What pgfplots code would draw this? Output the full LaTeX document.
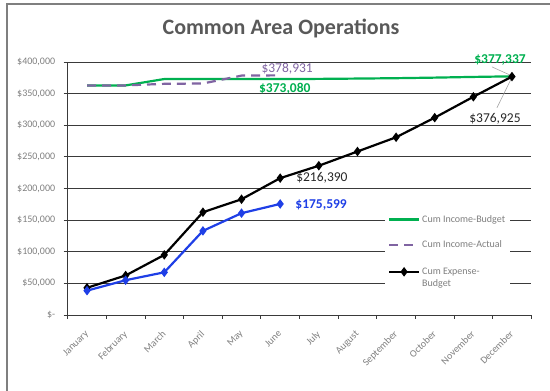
\documentclass[border=0pt]{standalone}
\usepackage{pgfplots}
\pgfplotsset{compat=1.18}
\usepackage{fontspec}
\setmainfont{Carlito}
\definecolor{cgreen}{HTML}{00B050}
\definecolor{cpurple}{HTML}{8064A2}
\definecolor{cblue}{HTML}{1F3FE6}
\definecolor{cgray}{HTML}{7F7F7F}
\definecolor{ctitle}{HTML}{595959}
\definecolor{cgrid}{HTML}{3A3A3A}
\begin{document}
\begin{tikzpicture}[x=1pt,y=1pt]
\useasboundingbox (0,0) rectangle (550,391);
\draw[cgray, line width=1.5pt] (7,0) -- (7,387) -- (550,387);
\node[font=\bfseries\fontsize{22}{24}\selectfont, text=ctitle] at (281,363) {Common Area Operations};
\begin{axis}[
  at={(67.7pt,76pt)}, anchor=south west,
  scale only axis, width=463.6pt, height=253pt,
  xmin=-0.5, xmax=11.5, ymin=0, ymax=400000,
  axis x line*=bottom, axis y line*=left,
  axis line style={cgrid, line width=0.9pt},
  clip=false,
  scaled y ticks=false,
  xtick={0,...,11},
  xticklabels={January,February,March,April,May,June,July,August,September,October,November,December},
  minor xtick={-0.5,0.5,...,11.5},
  major x tick style={draw=none},
  minor tick length=4pt,
  major tick length=4pt,
  tick align=outside,
  tick style={cgrid, line width=0.8pt},
  ytick={0,50000,...,400000},
  yticklabels={\$-,\$50{,}000,\$100{,}000,\$150{,}000,\$200{,}000,\$250{,}000,\$300{,}000,\$350{,}000,\$400{,}000},
  yticklabel style={font=\fontsize{10}{12}\selectfont, text=cgray, xshift=-5pt},
  xticklabel style={font=\fontsize{10}{12}\selectfont, text=cgray, rotate=45, anchor=north east, yshift=-2.2pt, xshift=-6.2pt},
  ymajorgrids,
  grid style={cgrid, line width=0.9pt},
  legend style={at={(0.684,0.439)}, anchor=north west, draw=none, fill=white,
    font=\fontsize{10}{12}\selectfont, text=cgray, row sep=13pt, inner xsep=3pt, inner ysep=9pt,
    cells={anchor=base west}},
  legend image code/.code={\draw[mark repeat=2,mark phase=2,#1] plot coordinates {(0pt,2.6pt) (15pt,2.6pt) (30pt,2.6pt)};},
]
\addplot[cgreen, line width=2.2pt, mark=none] coordinates {
(0,363000) (1,363000) (2,373080) (3,373080) (4,373080) (5,373080)
(6,373300) (7,373800) (8,374400) (9,375300) (10,376400) (11,377337)};
\addlegendentry{Cum Income-Budget}
\addplot[cpurple, line width=2.2pt, mark=none, dash pattern=on 9pt off 6pt] coordinates {
(0,363000) (1,363000) (2,365500) (3,366000) (4,378500) (5,378931)};
\addlegendentry{Cum Income-Actual}
\addplot[black, line width=2.2pt, mark=diamond*, mark size=3pt, mark options={solid}] coordinates {
(0,43000) (1,62500) (2,95000) (3,162500) (4,183000) (5,216390)
(6,236000) (7,258500) (8,281000) (9,312000) (10,345000) (11,376925)};
\addlegendentry{\begin{tabular}[t]{@{}l@{}}Cum Expense-\\Budget\rule[-4pt]{0pt}{4pt}\end{tabular}}
\addplot[cblue, line width=2.2pt, mark=diamond*, mark size=3pt, forget plot] coordinates {
(0,38500) (1,55000) (2,67500) (3,133000) (4,161000) (5,175599)};
\draw[gray!70, line width=0.6pt] (axis cs:10.48,392300) -- (axis cs:11,378000);
\draw[gray!70, line width=0.6pt] (axis cs:10.61,327500) -- (axis cs:11,376000);
\node[font=\fontsize{13.5}{15}\selectfont, text=cpurple] at (axis cs:5.18,389200) {\$378,931};
\node[font=\bfseries\fontsize{13.5}{15}\selectfont, text=cgreen] at (axis cs:5.12,357500) {\$373,080};
\node[font=\bfseries\fontsize{13.5}{15}\selectfont, text=cgreen] at (axis cs:10.69,403400) {\$377,337};
\node[font=\fontsize{13.5}{15}\selectfont, text=black!85] at (axis cs:10.56,310100) {\$376,925};
\node[font=\fontsize{13.5}{15}\selectfont, text=black!85] at (axis cs:6.08,216700) {\$216,390};
\node[font=\bfseries\fontsize{13.5}{15}\selectfont, text=cblue] at (axis cs:6.06,174000) {\$175,599};
\end{axis}
\end{tikzpicture}
\end{document}
